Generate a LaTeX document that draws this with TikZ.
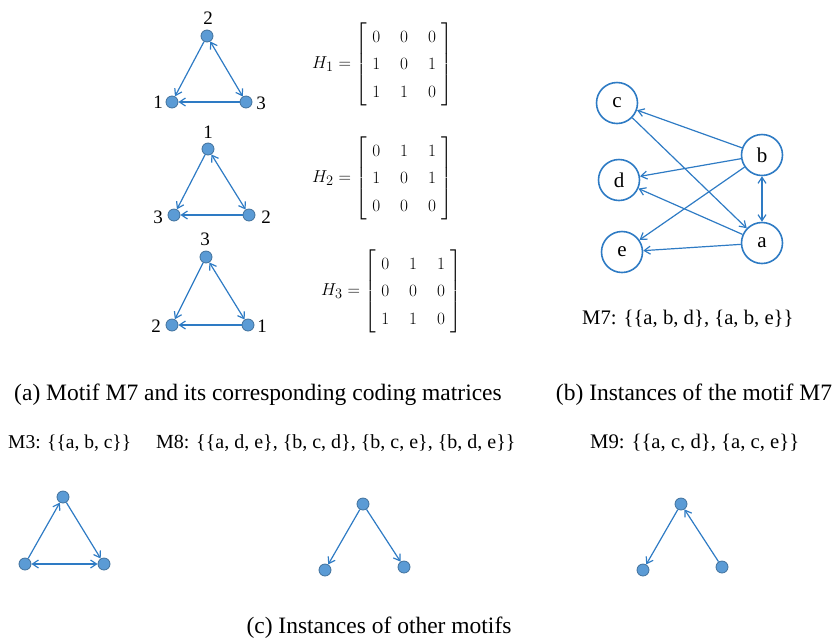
\documentclass[tikz,border=0pt]{standalone}
\usepackage{amsmath}
\usepackage{fontspec}
\setmainfont{Liberation Serif}
\usetikzlibrary{arrows.meta}
\definecolor{edge}{HTML}{2E7BC4}
\definecolor{dotfill}{HTML}{5B9BD5}
\definecolor{dotline}{HTML}{41719C}
\newcommand{\mymat}[1]{\renewcommand{\arraystretch}{1.25}\setlength{\arraycolsep}{10pt}\left[\begin{array}{@{\hspace{5pt}}ccc@{\hspace{5pt}}}#1\end{array}\right]}
\tikzset{
  dot/.style={circle,fill=dotfill,draw=dotline,line width=0.8pt,minimum size=12pt,inner sep=0pt},
  big/.style={circle,draw=edge,line width=1.6pt,fill=white,minimum size=41pt,inner sep=0pt,font=\fontsize{21}{24}\selectfont},
  lbl/.style={font=\fontsize{19}{22}\selectfont,inner sep=0pt},
  captxt/.style={font=\fontsize{23.5}{26}\selectfont,inner sep=0pt},
  txt/.style={font=\fontsize{20.7}{24}\selectfont,inner sep=0pt},
  arr/.style={draw=edge,line width=1.2pt,-{Straight Barb[length=6pt,width=8pt]}},
  darr/.style={draw=edge,line width=1.2pt,{Straight Barb[length=6pt,width=8pt]}-{Straight Barb[length=6pt,width=8pt]}},
  mat/.style={font=\fontsize{19}{22}\selectfont,inner sep=0pt}
}
\begin{document}
\begin{tikzpicture}[x=1pt,y=-1pt]
\useasboundingbox (0,0) rectangle (838,641);
% motif 1
\node[dot] (m1a) at (207,36) {};
\node[dot] (m1b) at (172,102) {};
\node[dot] (m1c) at (246,102) {};
\node[lbl] (l1a) at (208,18) {2};
\node[lbl] (l1b) at (158,102) {1};
\node[lbl] (l1c) at (261,103) {3};
\draw[arr] (m1a) -- (m1b);
\draw[darr] (m1a) -- (m1c);
\draw[arr] (m1c) -- (m1b);
% motif 2
\node[dot] (m2a) at (208,149) {};
\node[dot] (m2b) at (174,215) {};
\node[dot] (m2c) at (249,215) {};
\node[lbl] (l2a) at (208,132) {1};
\node[lbl] (l2b) at (158,217) {3};
\node[lbl] (l2c) at (266,217) {2};
\draw[arr] (m2a) -- (m2b);
\draw[darr] (m2a) -- (m2c);
\draw[arr] (m2c) -- (m2b);
% motif 3
\node[dot] (m3a) at (206,257) {};
\node[dot] (m3b) at (172,325) {};
\node[dot] (m3c) at (248,325) {};
\node[lbl] (l3a) at (205,239) {3};
\node[lbl] (l3b) at (156,326) {2};
\node[lbl] (l3c) at (262,326) {1};
\draw[arr] (m3a) -- (m3b);
\draw[darr] (m3a) -- (m3c);
\draw[arr] (m3c) -- (m3b);
% matrices
\node[mat,anchor=west] (h1) at (312,64) {$H_1=\mymat{0&0&0\\1&0&1\\1&1&0}$};
\node[mat,anchor=west] (h2) at (312,178) {$H_2=\mymat{0&1&1\\1&0&1\\0&0&0}$};
\node[mat,anchor=west] (h3) at (321,291) {$H_3=\mymat{0&1&1\\0&0&0\\1&1&0}$};
% right graph
\node[big] (c) at (617,103) {c};
\node[big] (d) at (619,180) {d};
\node[big] (e) at (622,252) {e};
\node[big] (b) at (762,155) {b};
\node[big] (a) at (762,243) {a};
\draw[arr] (b) -- (c);
\draw[arr] (b) -- (d);
\draw[arr] (b) -- (e);
\draw[arr] (a) -- (d);
\draw[arr] (a) -- (e);
\draw[arr] (c) -- (a);
\draw[darr] (b) -- (a);
\node[txt,anchor=west] (m7) at (582,319) {M7: \{\{a, b, d\}, \{a, b, e\}\}};
% captions
\node[captxt] (capa) at (258,395) {(a) Motif M7 and its corresponding coding matrices};
\node[captxt] (capb) at (694,395) {(b) Instances of the motif M7};
\node[txt,anchor=west,font=\fontsize{19.5}{23}\selectfont] (m3t) at (8,443) {M3: \{\{a, b, c\}\}};
\node[txt,anchor=west,font=\fontsize{20}{24}\selectfont] (m8t) at (156,443) {M8: \{\{a, d, e\}, \{b, c, d\}, \{b, c, e\}, \{b, d, e\}\}};
\node[txt,anchor=west] (m9t) at (590,443) {M9: \{\{a, c, d\}, \{a, c, e\}\}};
\node[captxt] (capc) at (379,628) {(c) Instances of other motifs};
% bottom motifs
\node[dot] (p1) at (63,497) {};
\node[dot] (p2) at (25,564) {};
\node[dot] (p3) at (104,564) {};
\draw[arr] (p2) -- (p1);
\draw[arr] (p1) -- (p3);
\draw[darr] (p2) -- (p3);
\node[dot] (q1) at (363,504) {};
\node[dot] (q2) at (325,570) {};
\node[dot] (q3) at (404,567) {};
\draw[arr] (q1) -- (q2);
\draw[arr] (q1) -- (q3);
\node[dot] (r1) at (681,504) {};
\node[dot] (r2) at (643,570) {};
\node[dot] (r3) at (722,567) {};
\draw[arr] (r1) -- (r2);
\draw[arr] (r3) -- (r1);
\end{tikzpicture}
\end{document}
